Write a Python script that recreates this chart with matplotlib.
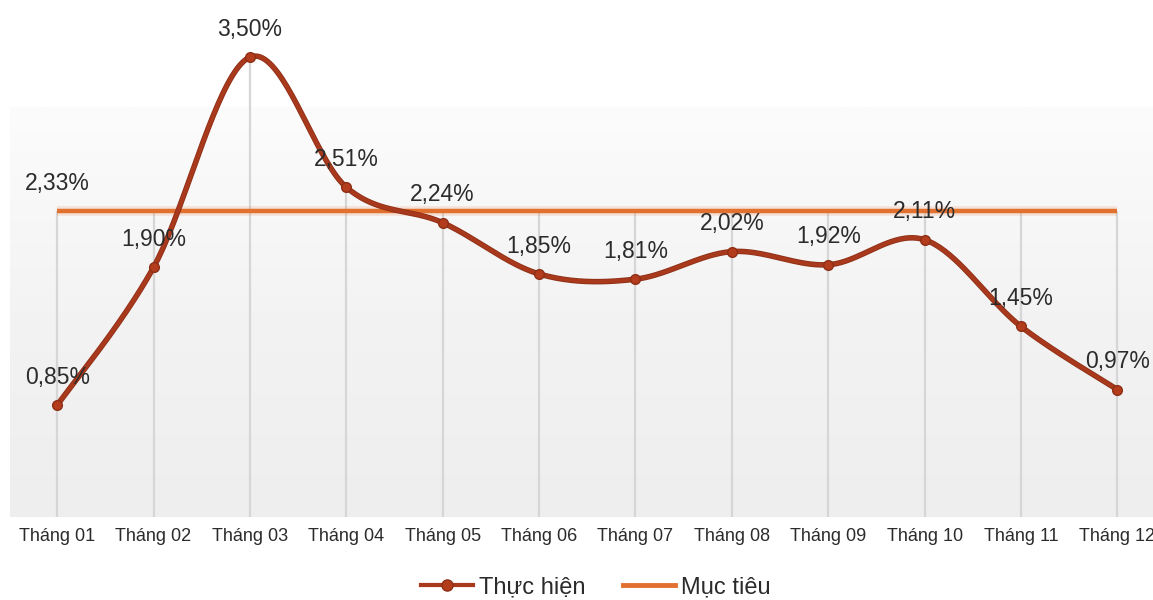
import numpy as np
import matplotlib
matplotlib.use("Agg")
import matplotlib.pyplot as plt
from matplotlib.lines import Line2D
from matplotlib.colors import LinearSegmentedColormap

plt.rcParams['font.family'] = ['Liberation Sans', 'DejaVu Sans']

# ---- data ----
months = ["Tháng 01", "Tháng 02", "Tháng 03", "Tháng 04", "Tháng 05", "Tháng 06",
          "Tháng 07", "Tháng 08", "Tháng 09", "Tháng 10", "Tháng 11", "Tháng 12"]
actual = [0.85, 1.90, 3.50, 2.51, 2.24, 1.85, 1.81, 2.02, 1.92, 2.11, 1.45, 0.97]
target = [2.33] * 12
series_names = ["Thực hiện", "Mục tiêu"]

C_ACT = "#A8391C"
C_ACT_MK = "#B33C1C"
C_TGT = "#E2702E"
C_TXT = "#2b2b2b"

W, H = 1153, 600
fig = plt.figure(figsize=(W / 100, H / 100), dpi=100)
ax = fig.add_axes([8 / W, 83 / H, 1145 / W, 517 / H])

x = np.arange(len(months))
ax.set_xlim(-0.51, 11.37)
ax.set_ylim(0, 3.935)

# background gradient (plot area)
grad = np.linspace(0, 1, 256).reshape(-1, 1)
cmap = LinearSegmentedColormap.from_list("bg", ["#eeeeee", "#f3f3f3", "#fcfcfc"])
ax.imshow(grad, extent=(-0.49, 11.37, 0, 3.12), origin="lower", aspect="auto",
          cmap=cmap, zorder=0, interpolation="bilinear")

# drop lines
tops = np.maximum(actual, target)
ax.vlines(x, 0, tops, colors="#d6d6d6", lw=1.6, zorder=1)

# target line with slight glow
ax.plot(x, target, color=C_TGT, lw=7, alpha=0.15, solid_capstyle="butt", zorder=2)
ax.plot(x, target, color=C_TGT, lw=3.2, solid_capstyle="butt", zorder=3)

# smoothed actual line (Catmull-Rom style Bezier)
ya = np.array(actual)
xs, ys = [], []
n = len(ya)
for i in range(n - 1):
    p0 = (x[max(i - 1, 0)], ya[max(i - 1, 0)])
    p1 = (x[i], ya[i])
    p2 = (x[i + 1], ya[i + 1])
    p3 = (x[min(i + 2, n - 1)], ya[min(i + 2, n - 1)])
    c1 = (p1[0] + (p2[0] - p0[0]) / 6, p1[1] + (p2[1] - p0[1]) / 6)
    c2 = (p2[0] - (p3[0] - p1[0]) / 6, p2[1] - (p3[1] - p1[1]) / 6)
    t = np.linspace(0, 1, 40)
    bx = (1 - t) ** 3 * p1[0] + 3 * (1 - t) ** 2 * t * c1[0] + 3 * (1 - t) * t ** 2 * c2[0] + t ** 3 * p2[0]
    by = (1 - t) ** 3 * p1[1] + 3 * (1 - t) ** 2 * t * c1[1] + 3 * (1 - t) * t ** 2 * c2[1] + t ** 3 * p2[1]
    xs.extend(bx)
    ys.extend(by)
ax.plot(xs, ys, color="#8e2f16", lw=4.0, solid_capstyle="round", zorder=4)
ax.plot(xs, ys, color=C_ACT, lw=2.8, solid_capstyle="round", zorder=4)
ax.plot(x, actual, ls="none", marker="o", ms=7, color=C_ACT_MK,
        markeredgecolor="#8e2f16", markeredgewidth=1, zorder=5)

# data labels
for xi, v in zip(x, actual):
    ax.annotate(f"{v:.2f}%".replace(".", ","), (xi, v), xytext=(0, 20),
                textcoords="offset points", ha="center", va="center",
                fontsize=16.5, color=C_TXT, zorder=6, annotation_clip=False)
ax.annotate(f"{target[0]:.2f}%".replace(".", ","), (x[0], target[0]), xytext=(0, 20),
            textcoords="offset points", ha="center", va="center",
            fontsize=16.5, color=C_TXT, zorder=6, annotation_clip=False)

# axis styling
ax.set_xticks(x)
ax.set_xticklabels(months, fontsize=13, color=C_TXT)
ax.tick_params(axis="x", length=0, pad=8)
ax.set_yticks([])
for s in ax.spines.values():
    s.set_visible(False)
ax.set_facecolor("white")

# legend
handles = [
    Line2D([], [], color=C_ACT, lw=3, marker="o", ms=8, markerfacecolor=C_ACT_MK,
           markeredgecolor="#8e2f16"),
    Line2D([], [], color=C_TGT, lw=3.5),
]
fig.legend(handles, series_names, loc="center", bbox_to_anchor=(596 / W, 13 / H),
           ncol=2, frameon=False, fontsize=17, handlelength=2.2,
           handletextpad=0.25, columnspacing=1.6, labelcolor=C_TXT)

fig.savefig("out.png", dpi=100)
